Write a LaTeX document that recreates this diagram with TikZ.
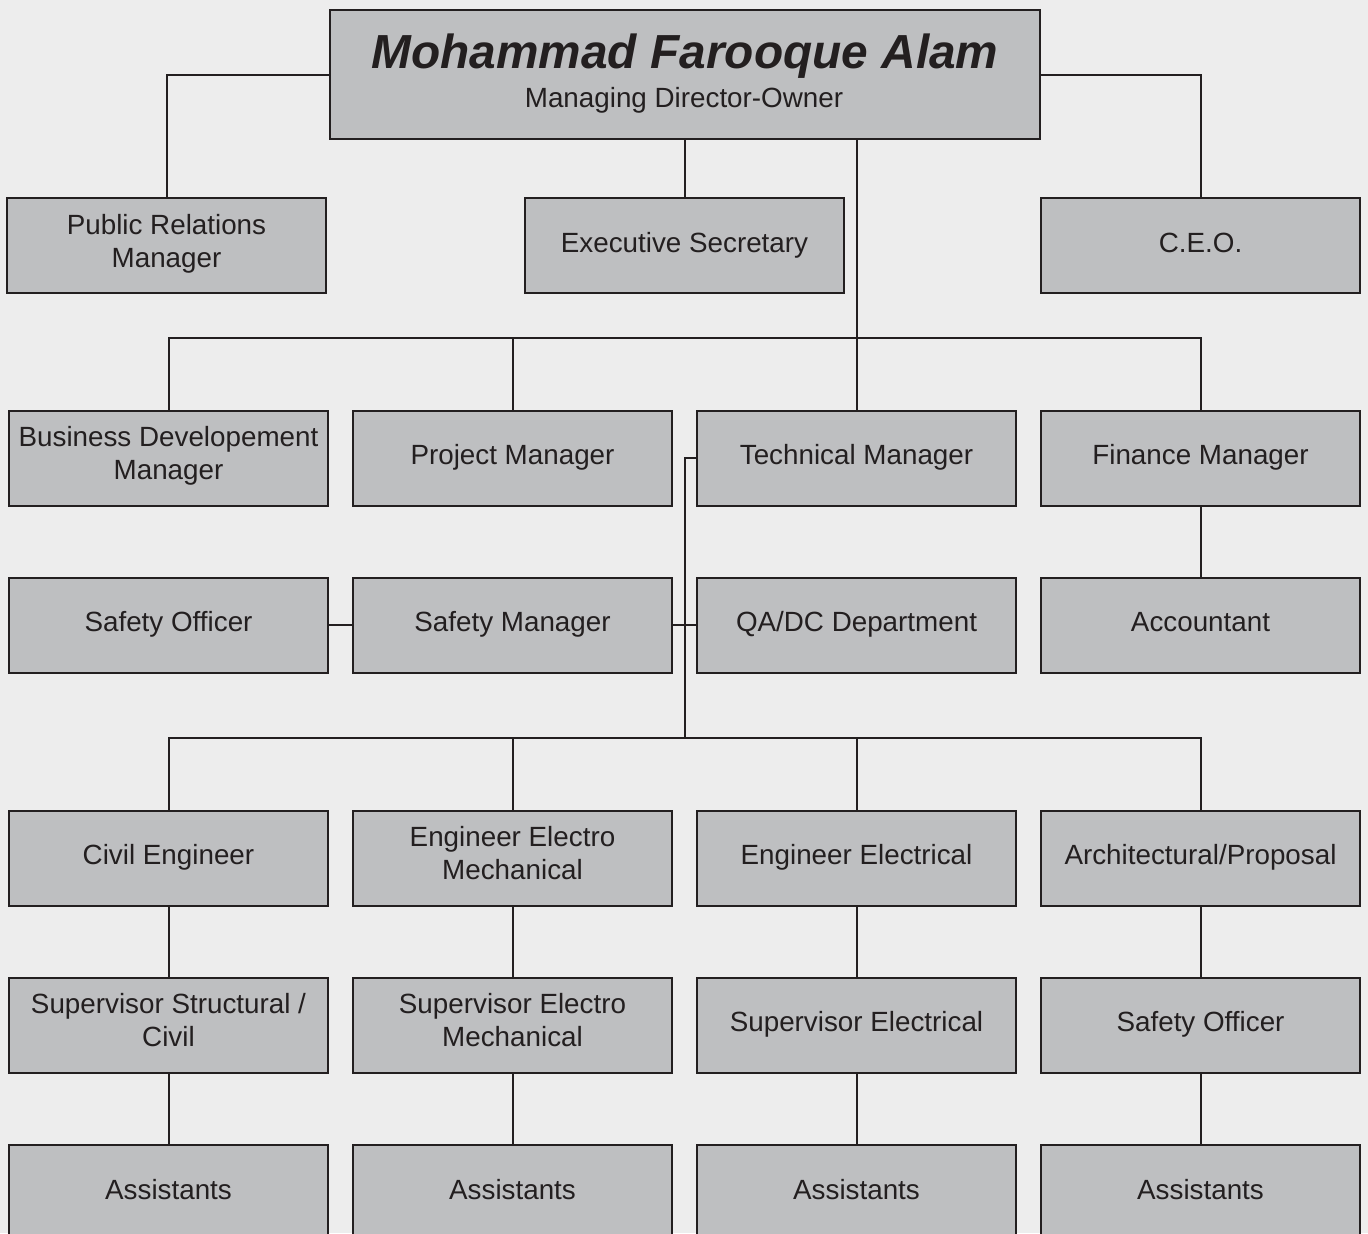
\documentclass[tikz,border=0pt]{standalone}
\usepackage{fontspec}
\setmainfont{Liberation Sans}
\usepackage{xcolor}
\usetikzlibrary{positioning, calc}
\definecolor{paper}{RGB}{237,237,237}
\definecolor{boxgray}{RGB}{190,191,193}
\definecolor{inkdark}{RGB}{35,31,32}

\begin{document}
\begin{tikzpicture}[x=0.5pt, y=-0.5pt,
    box/.style={draw=inkdark, line width=1pt, fill=boxgray, text=inkdark,
        minimum width=159.5pt, minimum height=47.5pt, inner sep=2pt, align=center,
        font=\fontsize{13.9pt}{16.5pt}\selectfont,
        execute at begin node=\strut, execute at end node=\strut},
    link/.style={draw=inkdark, line width=1pt}]
                % Background
                \useasboundingbox (0,0) rectangle (1368,1233);
                \fill[paper] (0,0) rectangle (1368,1233);
                \clip (0,0) rectangle (1368,1233);

                % Owner
                \node[box, minimum width=355pt, minimum height=64.5pt] (md) at (685,74.5) {};
                \node[text=inkdark, font=\fontsize{23.9pt}{26pt}\bfseries\itshape, anchor=base] (mdname) at (685,68) {Mohammad Farooque Alam};
                \node[text=inkdark, font=\fontsize{13.9pt}{16pt}\selectfont, anchor=base] (mdrole) at (684,107) {Managing Director-Owner};

                % First row
                \node[box] (pr) at (166.5,245.5) {Public Relations\\Manager};
                \node[box] (sec) at (684.5,245.5) {Executive Secretary};
                \node[box] (ceo) at (1200.5,245.5) {C.E.O.};

                % Managers
                \node[box] (bdm) at (168.5,458) {Business Developement\\Manager};
                \node[box] (pm) at (512.5,458) {Project Manager};
                \node[box] (tm) at (856.5,458) {Technical Manager};
                \node[box] (fm) at (1200.5,458) {Finance Manager};

                % Second row of staff
                \node[box] (so) at (168.5,625) {Safety Officer};
                \node[box] (sm) at (512.5,625) {Safety Manager};
                \node[box] (qa) at (856.5,625) {QA/DC Department};
                \node[box] (acc) at (1200.5,625) {Accountant};

                % Engineers
                \node[box] (civ) at (168.5,858) {Civil Engineer};
                \node[box] (eem) at (512.5,858) {Engineer Electro\\Mechanical};
                \node[box] (eel) at (856.5,858) {Engineer Electrical};
                \node[box] (arch) at (1200.5,858) {Architectural/Proposal};

                % Supervisors
                \node[box] (ssc) at (168.5,1025) {Supervisor Structural /\\Civil};
                \node[box] (sem) at (512.5,1025) {Supervisor Electro\\Mechanical};
                \node[box] (sel) at (856.5,1025) {Supervisor Electrical};
                \node[box] (sso) at (1200.5,1025) {Safety Officer};

                % Assistants
                \node[box] (as1) at (168.5,1192.5) {Assistants};
                \node[box] (as2) at (512.5,1192.5) {Assistants};
                \node[box] (as3) at (856.5,1192.5) {Assistants};
                \node[box] (as4) at (1200.5,1192.5) {Assistants};

                % Bus points
                \coordinate (busA) at (856.5,338);
                \coordinate (spine) at (685,458);
                \coordinate (busB) at (685,738);

                % Links from owner
                \draw[link] (md.west) -| (pr.north);
                \draw[link] (md.east) -| (ceo.north);
                \draw[link] (md.south -| sec.north) -- (sec.north);
                \draw[link] (md.south -| tm.north) -- (tm.north);

                % Manager bus
                \draw[link] (bdm.north) |- (busA) -| (fm.north);
                \draw[link] (pm.north) -- (pm.north |- busA);
                \draw[link] (fm.south) -- (acc.north);

                % Technical branch
                \draw[link] (tm.west) -- (spine) -- (busB);
                \draw[link] (sm.east) -- (qa.west);
                \draw[link] (so.east) -- (sm.west);
                \draw[link] (civ.north) |- (busB) -| (arch.north);
                \draw[link] (eem.north) -- (eem.north |- busB);
                \draw[link] (eel.north) -- (eel.north |- busB);

                % Columns down
                \draw[link] (civ.south) -- (ssc.north);
                \draw[link] (eem.south) -- (sem.north);
                \draw[link] (eel.south) -- (sel.north);
                \draw[link] (arch.south) -- (sso.north);
                \draw[link] (ssc.south) -- (as1.north);
                \draw[link] (sem.south) -- (as2.north);
                \draw[link] (sel.south) -- (as3.north);
                \draw[link] (sso.south) -- (as4.north);
            \end{tikzpicture}
\end{document}
